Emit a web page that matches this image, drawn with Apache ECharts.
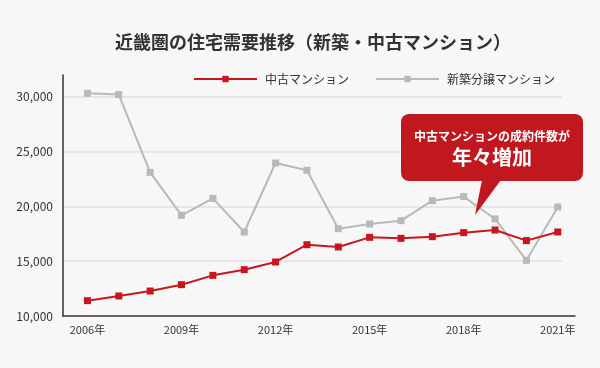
<!DOCTYPE html>
<html><head><meta charset="utf-8">
<script src="https://cdn.jsdelivr.net/npm/echarts@6/dist/echarts.min.js"></script>
<style>html,body{margin:0;padding:0;background:#f7f7f7}#c{width:600px;height:368px}</style>
</head><body><div id="c"></div>
<script>
const years = [2006,2007,2008,2009,2010,2011,2012,2013,2014,2015,2016,2017,2018,2019,2020,2021];
const usedValues = [11400,11830,12280,12860,13710,14230,14930,16510,16300,17180,17090,17240,17610,17850,16880,17670];
const newValues = [30330,30210,23110,19190,20740,17670,23970,23300,17970,18400,18700,20530,20900,18860,15080,19950];
const xTickYears = [2006,2009,2012,2015,2018,2021];
const seriesNames = ['中古マンション','新築分譲マンション'];
const titleText = '近畿圏の住宅需要推移（新築・中古マンション）';
const calloutLine1 = '中古マンションの成約件数が';
const calloutLine2 = '年々増加';

const font = '"Noto Sans CJK JP","Noto Sans",sans-serif';
const chart = echarts.init(document.getElementById('c'), null, {renderer:'canvas'});
const axisColor = '#3a3131';
const calloutRed = '#c1181f';
chart.setOption({
  backgroundColor:'#f7f7f7',
  animation:false,
  textStyle:{fontFamily:font},
  title:{text:titleText,left:115,top:33,padding:0,textStyle:{fontSize:18,fontWeight:'bold',color:'#333',fontFamily:font}},
  legend:{data:seriesNames,left:188,top:68,itemWidth:63,itemHeight:8,itemGap:26,
    textStyle:{fontSize:12,color:'#333',fontFamily:font,padding:[0,0,0,3]}},
  grid:[{left:63,right:25,top:75,bottom:52},{left:63,right:38,top:75,bottom:52}],
  xAxis:[{type:'value',gridIndex:0,min:2005.22,max:2021.55,
    axisLine:{show:true,onZero:false,lineStyle:{color:axisColor,width:1.5}},
    axisTick:{show:false},splitLine:{show:false},
    axisLabel:{customValues:xTickYears,formatter:v=>v+'年',fontSize:11,color:'#333',margin:8,fontFamily:font}},
    {type:'value',gridIndex:1,min:0,max:1,show:false}],
  yAxis:[{type:'value',gridIndex:0,min:10000,max:32000,interval:5000,
    axisLine:{show:true,lineStyle:{color:axisColor,width:1.5}},
    axisTick:{show:false},splitLine:{show:false},
    axisLabel:{showMaxLabel:false,fontSize:12,color:'#333',margin:10,fontFamily:font,
      formatter:v=>v.toLocaleString('en-US')}},
    {type:'value',gridIndex:1,min:10000,max:32000,interval:5000,
    axisLine:{show:false},axisTick:{show:false},axisLabel:{show:false},
    splitLine:{show:true,showMinLine:false,showMaxLine:false,lineStyle:{color:'#e6e6e6',width:2}}}],
  series:[
    {name:seriesNames[1],type:'line',xAxisIndex:0,yAxisIndex:0,
      data:years.map((y,i)=>[y,newValues[i]]),symbol:'rect',symbolSize:7,
      lineStyle:{color:'#b9b9b9',width:2},itemStyle:{color:'#b9b9b9'},z:2},
    {name:seriesNames[0],type:'line',xAxisIndex:0,yAxisIndex:0,
      data:years.map((y,i)=>[y,usedValues[i]]),symbol:'rect',symbolSize:7,
      lineStyle:{color:'#c8161e',width:2},itemStyle:{color:'#c8161e'},z:3}
  ],
  graphic:[
    {type:'rect',z:100,shape:{x:401,y:114,width:182,height:67,r:8},style:{fill:calloutRed}},
    {type:'polygon',z:100,shape:{points:[[482,180],[501,180],[475,215]]},style:{fill:calloutRed}},
    {type:'text',z:101,x:492,y:136,style:{text:calloutLine1,fill:'#fff',font:'bold 12px '+font,align:'center',verticalAlign:'middle'}},
    {type:'text',z:101,x:492,y:157,style:{text:calloutLine2,fill:'#fff',font:'bold 20px '+font,align:'center',verticalAlign:'middle'}}
  ]
});
</script></body></html>
